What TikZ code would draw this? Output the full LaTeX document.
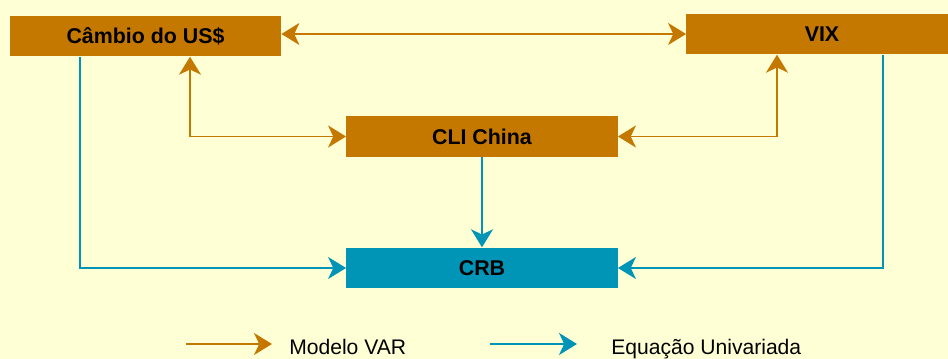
\documentclass[tikz,border=0pt]{standalone}
\usepackage{fontspec}
\setmainfont{Liberation Sans}
\usetikzlibrary{arrows.meta}
\definecolor{laranja}{HTML}{C47800}
\definecolor{azul}{HTML}{0094B6}
\definecolor{fundo}{HTML}{FFFFD5}
\tikzset{
	caixa/.style={minimum width=6.78cm, minimum height=1.02cm, inner sep=0pt,
		font=\fontsize{15.2}{18}\selectfont\bfseries},
	cxvar/.style={caixa, fill=laranja},
	cxuni/.style={caixa, fill=azul},
	var/.style={draw=laranja, line width=1.4pt},
	uni/.style={draw=azul, line width=1.3pt},
	legenda/.style={inner sep=0pt, font=\fontsize{15}{18}\selectfont}
}
\begin{document}
\begin{tikzpicture}[x=0.025cm, y=-0.025cm,
		>={Stealth[length=0.45cm, width=0.55cm, inset=0.13cm]}]
		% Fundo
		\fill[fundo] (0,0) rectangle (948,359);
		\useasboundingbox (0,0) rectangle (948,359);
		% Caixas das variáveis
		\node[cxvar] (cambio) at (145.5,36) {Câmbio do US\$};
		\node[cxvar] (vix) at (822,34) {VIX};
		\node[cxvar] (cli) at (482,136.5) {CLI China};
		\node[cxuni] (crb) at (482,268) {CRB};
		% Pontos auxiliares das ligações
		\coordinate (c1) at (190,137);
		\coordinate (c2) at (777,137);
		\coordinate (c3) at (80,268);
		\coordinate (c4) at (883,268);
		% Modelo VAR
		\draw[var,<->] (cambio.east |- vix.west) -- (vix.west);
		\draw[var,<->] (cambio.south -| c1) |- (cli.west);
		\draw[var,<->] (vix.south -| c2) |- (cli.east);
		% Equação univariada
		\draw[uni,->] (cli.south) -- (crb.north);
		\draw[uni,->] (cambio.south -| c3) |- (crb.west);
		\draw[uni,->] (vix.south -| c4) |- (crb.east);
		% Legenda
		\coordinate (lv1) at (186,344);
		\coordinate (lv2) at (272,344);
		\coordinate (lu1) at (490,344);
		\coordinate (lu2) at (577,344);
		\draw[var,->] (lv1) -- (lv2);
		\draw[uni,->] (lu1) -- (lu2);
		\node[legenda, anchor=base west] (tvar) at (289,355) {Modelo VAR};
		\node[legenda, anchor=base west] (tuni) at (611,355) {Equação Univariada};
	\end{tikzpicture}
\end{document}
